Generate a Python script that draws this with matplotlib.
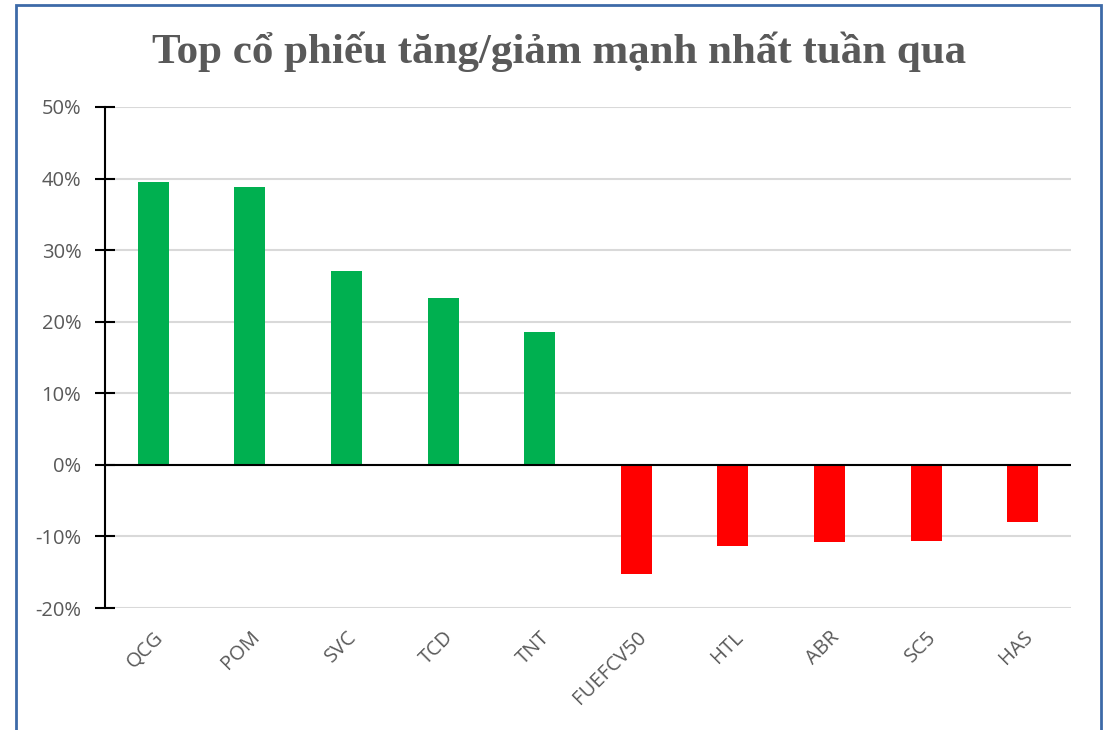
import matplotlib.pyplot as plt
from matplotlib.patches import Rectangle
from matplotlib.ticker import FuncFormatter

tickers = ['QCG', 'POM', 'SVC', 'TCD', 'TNT', 'FUEFCV50', 'HTL', 'ABR', 'SC5', 'HAS']
changes = [0.395, 0.388, 0.271, 0.233, 0.186, -0.152, -0.113, -0.108, -0.107, -0.080]
y_ticks = [-0.2, -0.1, 0.0, 0.1, 0.2, 0.3, 0.4, 0.5]

W, H = 1109, 730
fig = plt.figure(figsize=(W / 100, H / 100), dpi=100)

# outer chart frame (blue border, bottom edge cut off)
fig.patches.append(Rectangle((16 / W, -0.05), (1101 - 16) / W, 1.05 - 5 / H,
                             transform=fig.transFigure, fill=False,
                             edgecolor='#3D6AA8', linewidth=2))

ax = fig.add_axes([105 / W, 1 - 608 / H, (1071 - 105) / W, (608 - 107) / H])

colors = ['#00B050' if v >= 0 else '#FF0000' for v in changes]
x = range(len(tickers))
ax.bar(x, changes, width=0.32, color=colors, zorder=3)

ax.set_xlim(-0.5, len(tickers) - 0.5)
ax.set_ylim(-0.2, 0.5)
ax.set_yticks(y_ticks)
ax.yaxis.set_major_formatter(FuncFormatter(lambda v, p: f'{v * 100:.0f}%'))
ax.grid(axis='y', color='#D9D9D9', linewidth=1.5, zorder=0)
ax.axhline(0, color='black', linewidth=1.5, zorder=4)

for s in ['top', 'right', 'bottom']:
    ax.spines[s].set_visible(False)
ax.spines['left'].set_linewidth(1.5)
ax.spines['left'].set_color('black')

ax.tick_params(axis='y', direction='inout', length=14, width=1.5, colors='black',
               labelcolor='#595959', labelsize=14.5, pad=10)
ax.set_xticks(list(x))
ax.set_xticklabels(tickers, rotation=45, ha='right', rotation_mode='anchor',
                   color='#595959', fontsize=14.5)
ax.tick_params(axis='x', length=0, pad=14)
for lbl in ax.get_xticklabels() + ax.get_yticklabels():
    lbl.set_family('Open Sans')

fig.text(0.504, 1 - 52 / H, 'Top cổ phiếu tăng/giảm mạnh nhất tuần qua',
         ha='center', va='center', fontsize=31, fontweight='bold',
         family='Liberation Serif', color='#595959')

fig.savefig('out.png', dpi=100)
